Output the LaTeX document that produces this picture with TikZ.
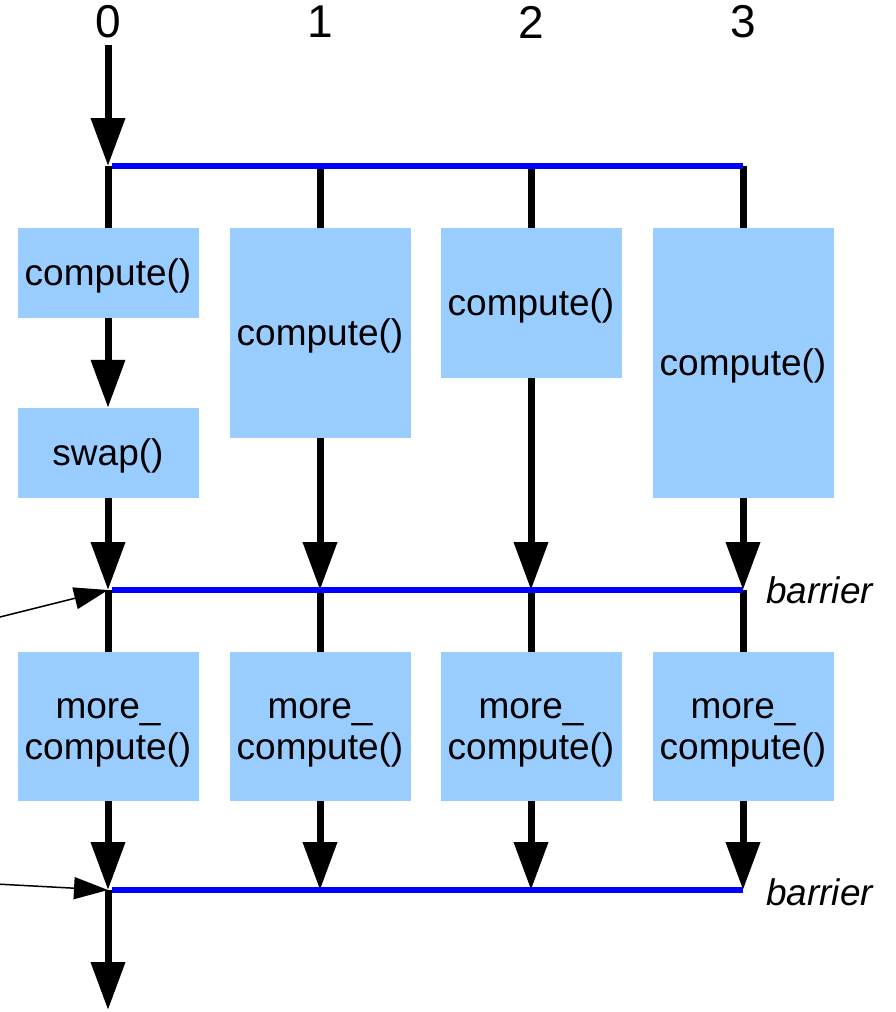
\documentclass[tikz,border=0pt]{standalone}
\usepackage{fontspec}
\setmainfont{Liberation Sans}
\usetikzlibrary{arrows.meta}
\definecolor{boxblue}{HTML}{99CCFF}
\definecolor{barblue}{HTML}{0000FF}
\begin{document}
\begin{tikzpicture}[x=1pt,y=-1pt,
  box/.style={fill=boxblue,draw=none,inner sep=0pt,minimum width=181pt,align=center,font=\fontsize{37}{41}\selectfont},
  onebox/.style={box,text height=30pt,text depth=5pt},
  twobox/.style={box,text height=71pt,text depth=5pt},
  vline/.style={line width=7pt,black},
  varrow/.style={line width=7pt,black,-{Triangle[length=48pt,width=33pt]}},
  barline/.style={line width=6.5pt,barblue},
  thinarrow/.style={line width=1.5pt,black,-{Triangle[length=34pt,width=22pt]}},
  collabel/.style={font=\fontsize{46}{50}\selectfont,inner sep=0pt},
  barlabel/.style={font=\fontsize{37}{42}\selectfont\itshape,inner sep=0pt,anchor=west}]
\useasboundingbox (0,0) rectangle (896,1012);
% column labels
\node[collabel] (l0) at (108,22) {0};
\node[collabel] (l1) at (320,22) {1};
\node[collabel] (l2) at (531,22) {2};
\node[collabel] (l3) at (743,22) {3};
% coordinates
\coordinate (s0) at (108,45);
\foreach \i/\x in {0/108,1/320,2/531,3/743}{
  \coordinate (t\i) at (\x,166);
  \coordinate (a\i) at (\x,590);
  \coordinate (b\i) at (\x,890);
}
\coordinate (end0) at (108,1010);
\coordinate (p1) at (-4,618);
\coordinate (p2) at (-4,884);
% boxes
\node[onebox,minimum height=90pt] (c0) at (108,273) {compute()};
\node[onebox,minimum height=90pt] (sw0) at (108,453) {swap()};
\node[onebox,minimum height=210pt] (c1) at (320,333) {compute()};
\node[onebox,minimum height=150pt] (c2) at (531,303) {compute()};
\node[onebox,minimum height=270pt] (c3) at (743,363) {compute()};
\node[twobox,minimum height=149pt] (m0) at (108,726.5) {more\_\\compute()};
\node[twobox,minimum height=149pt] (m1) at (320,726.5) {more\_\\compute()};
\node[twobox,minimum height=149pt] (m2) at (531,726.5) {more\_\\compute()};
\node[twobox,minimum height=149pt] (m3) at (743,726.5) {more\_\\compute()};
% top
\draw[varrow] (s0) -- (t0);
\draw[vline] (t0) -- (c0.north);
\draw[vline] (t1) -- (c1.north);
\draw[vline] (t2) -- (c2.north);
\draw[vline] (t3) -- (c3.north);
\draw[varrow] (c0.south) -- (sw0.north);
% to barrier 1
\draw[varrow] (sw0.south) -- (a0);
\draw[varrow] (c1.south) -- (a1);
\draw[varrow] (c2.south) -- (a2);
\draw[varrow] (c3.south) -- (a3);
% after barrier 1
\foreach \i in {0,1,2,3}{
  \draw[vline] (a\i) -- (m\i.north);
  \draw[varrow] (m\i.south) -- (b\i);
}
\draw[varrow] (b0) -- (end0);
% barriers
\draw[barline] ([xshift=3.5pt]t0) -- (t3);
\draw[barline] ([xshift=3.5pt]a0) -- (a3);
\draw[barline] ([xshift=3.5pt]b0) -- (b3);
\node[barlabel] (bl1) at (766,590) {barrier};
\node[barlabel] (bl2) at (766,892) {barrier};
% thin arrows
\draw[thinarrow] (p1) -- (a0);
\draw[thinarrow] (p2) -- (b0);
\end{tikzpicture}
\end{document}
